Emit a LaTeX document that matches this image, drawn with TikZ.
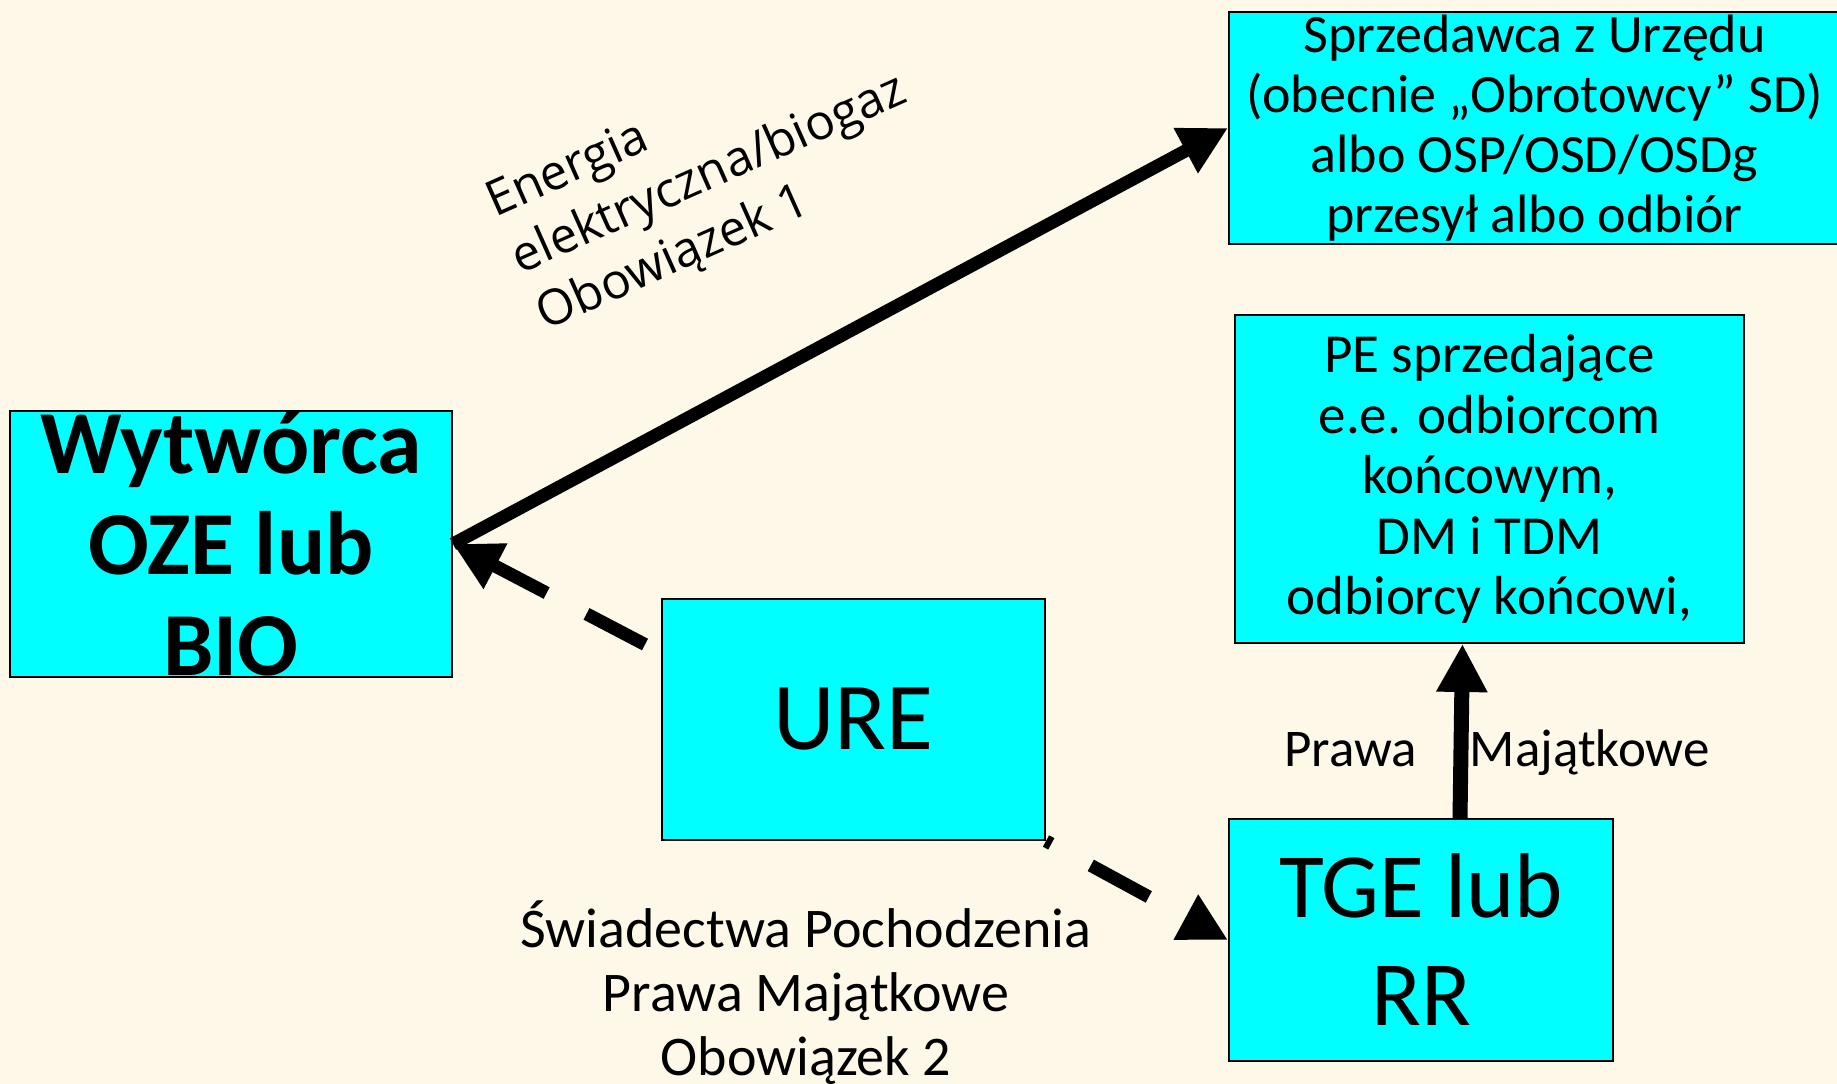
\documentclass[tikz,border=0pt]{standalone}
\usepackage{fontspec}
\setmainfont{Carlito}
\newfontfamily\labelfont{Open Sans}
\usepackage{tikz}
\usetikzlibrary{arrows.meta,calc}
\definecolor{paper}{RGB}{253,248,232}
\definecolor{boxcyan}{RGB}{0,255,255}
\tikzset{
  box/.style={rectangle, draw=black, line width=2pt, fill=boxcyan, align=center, inner sep=0pt},
  flow/.style={-{Triangle[length=48pt,width=48pt]}, line width=13pt, draw=black},
  dashflow/.style={flow, dash pattern=on 66pt off 45pt}
}
\begin{document}
\begin{tikzpicture}[x=1pt,y=-1pt]
\useasboundingbox (0,0) rectangle (1837,1084);
\fill[paper] (0,0) rectangle (1837,1084);
\node[box, minimum width=442pt, minimum height=266pt, font=\fontsize{90}{101}\selectfont\bfseries] (wyt) at (231,544) {Wytwórca\\OZE lub\\BIO};
\node[box, minimum width=611pt, minimum height=232pt, font=\fontsize{54}{60}\selectfont] (sprz) at (1534.5,128) {Sprzedawca z Urzędu\\(obecnie „Obrotowcy” SD)\\albo OSP/OSD/OSDg\\przesył albo odbiór};
\node[box, minimum width=509pt, minimum height=328pt, font=\fontsize{55}{60.5}\selectfont] (pe) at (1489.5,479) {PE sprzedające\\e.e. odbiorcom\\końcowym,\\DM i TDM\\odbiorcy końcowi,};
\node[box, minimum width=383pt, minimum height=241pt, font=\fontsize{96}{108}\selectfont] (ure) at (853.5,719.5) {URE};
\node[box, minimum width=384pt, minimum height=242pt, font=\fontsize{92}{108}\selectfont] (tge) at (1421,940) {TGE lub\\RR};
\node[rotate=24, align=left, font=\labelfont\fontsize{49}{62}\selectfont] (energia) at (710,176) {Energia\\elektryczna/biogaz\\Obowiązek 1};
\node[align=center, font=\fontsize{56}{64}\selectfont] (swiad) at (806,993) {Świadectwa Pochodzenia\\Prawa Majątkowe\\Obowiązek 2};
\node[font=\fontsize{53}{60}\selectfont] (prawa) at (1497,753) {Prawa\quad Majątkowe};
\draw[flow] (wyt.east) -- (sprz.west);
\draw[dashflow] ($(ure.west)+(-16,-75)$) -- (wyt.east);
\draw[dashflow, dash phase=60pt] (ure.south east) -- (tge.west);
\draw[flow, line width=15pt] ($(tge.north)+(39,0)$) -- ($(pe.south)+(-27,0)$);
\end{tikzpicture}
\end{document}
